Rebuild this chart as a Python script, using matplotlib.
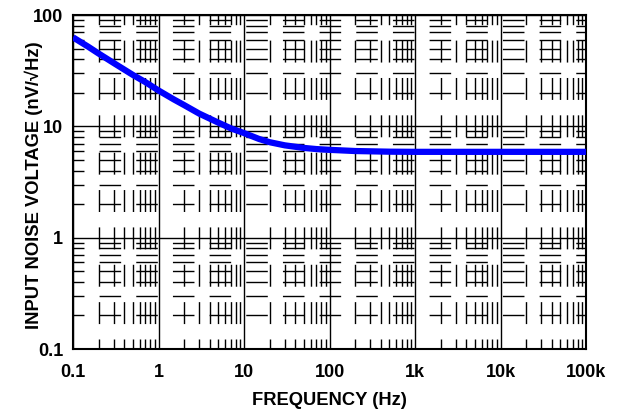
import numpy as np
import matplotlib
matplotlib.use("Agg")
import matplotlib.pyplot as plt
from matplotlib.ticker import FixedLocator, FixedFormatter, NullFormatter, LogLocator

# === Data ===
freq_hz = [0.1, 0.15, 0.2, 0.3, 0.5, 0.7, 1, 1.5, 2, 3, 5, 7, 10, 15, 20, 30,
           50, 70, 100, 200, 500, 1000, 10000, 100000]
noise_nv = [63, 52, 45, 37, 29, 25, 21, 17.5, 15.5, 13, 10.8, 9.6, 8.7, 7.7,
            7.2, 6.75, 6.4, 6.25, 6.15, 6.0, 5.92, 5.9, 5.9, 5.9]

x_ticks = [0.1, 1, 10, 100, 1000, 10000, 100000]
x_labels = ['0.1', '1', '10', '100', '1k', '10k', '100k']
y_ticks = [0.1, 1, 10, 100]
y_labels = ['0.1', '1', '10', '100']

plt.rcParams['font.family'] = ['Liberation Sans', 'DejaVu Sans']
plt.rcParams['font.weight'] = 'bold'
plt.rcParams['lines.scale_dashes'] = False

fig = plt.figure(figsize=(6.18, 4.15), dpi=100)
ax = fig.add_axes([73 / 618, 1 - 349 / 415, 513 / 618, 334 / 415])

ax.set_xscale('log')
ax.set_yscale('log')
ax.set_xlim(0.1, 100000)
ax.set_ylim(0.1, 100)

ax.xaxis.set_major_locator(FixedLocator(x_ticks))
ax.xaxis.set_major_formatter(FixedFormatter(x_labels))
ax.yaxis.set_major_locator(FixedLocator(y_ticks))
ax.yaxis.set_major_formatter(FixedFormatter(y_labels))
ax.xaxis.set_minor_locator(LogLocator(base=10, subs=np.arange(2, 10), numticks=20))
ax.yaxis.set_minor_locator(LogLocator(base=10, subs=np.arange(2, 10), numticks=20))
ax.xaxis.set_minor_formatter(NullFormatter())
ax.yaxis.set_minor_formatter(NullFormatter())

# major grid solid, minor grid broken into long dashes (datasheet style)
ax.grid(True, which='major', color='black', linewidth=1.0)
ax.xaxis.grid(True, which='minor', color='black', linewidth=1.0,
              linestyle=(8.6, (15.8, 11.1)))
ax.yaxis.grid(True, which='minor', color='black', linewidth=1.0,
              linestyle=(7.6, (15.5, 10.9)))

ax.tick_params(which='both', length=0)
ax.tick_params(axis='x', pad=11, labelsize=13)
ax.tick_params(axis='y', pad=7, labelsize=13)

for s in ax.spines.values():
    s.set_linewidth(1.5)
    s.set_color('black')

ax.plot(freq_hz, noise_nv, color='#0000ff', linewidth=4.5,
        solid_capstyle='butt', zorder=5)

ax.set_xlabel('FREQUENCY (Hz)', fontsize=13.2, fontweight='bold')
ax.xaxis.set_label_coords(0.5, -0.13)
ax.set_ylabel('INPUT NOISE VOLTAGE (nV/\u221aHz)', fontsize=13.2,
              fontweight='bold')
ax.yaxis.set_label_coords(-0.058, 0.49)

fig.savefig('out.png', dpi=100)
